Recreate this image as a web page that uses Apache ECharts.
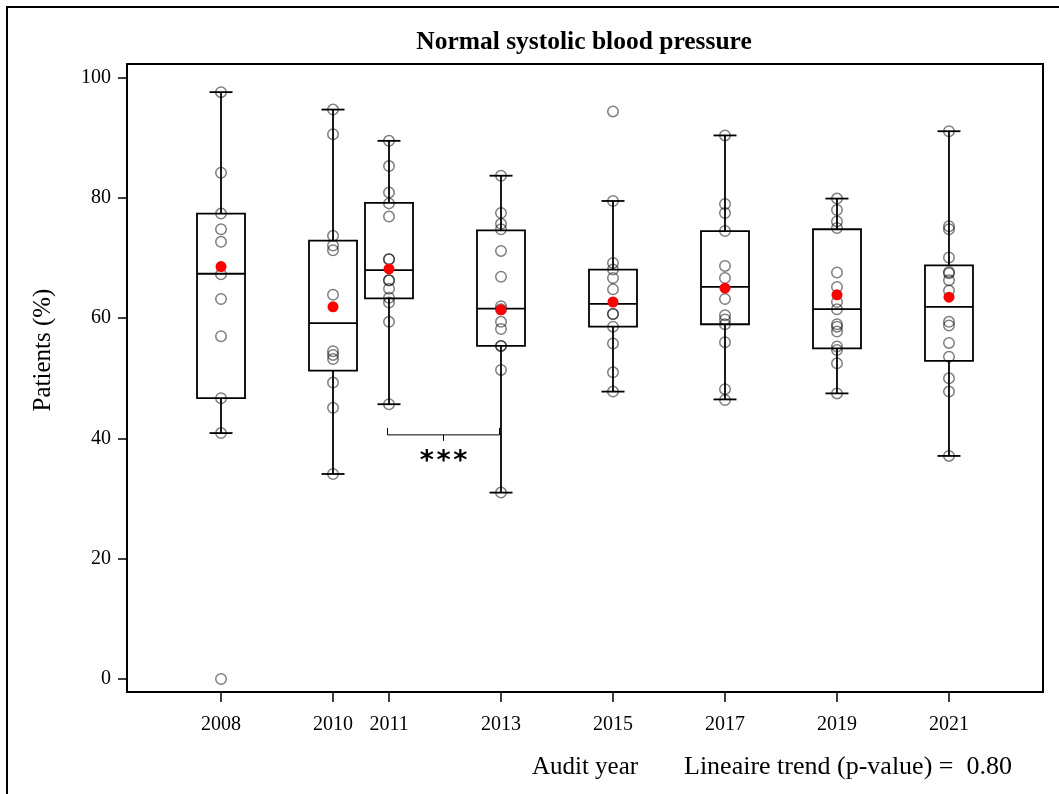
<!DOCTYPE html>
<html>
<head>
<meta charset="utf-8">
<script src="https://cdn.jsdelivr.net/npm/echarts@6/dist/echarts.min.js"></script>
<style>
  html, body { margin: 0; padding: 0; background: #fff; }
  #main { width: 1059px; height: 794px; }
</style>
</head>
<body>
<div id="main"></div>
<script>
// audit years and tick labels
const years = [2008, 2010, 2011, 2013, 2015, 2017, 2019, 2021];
const yTicks = [0, 20, 40, 60, 80, 100];

// box statistics per year
const whiskerLow = [40.9, 34.1, 45.7, 31.0, 47.8, 46.5, 47.5, 37.1];
const q1 = [46.7, 51.3, 63.3, 55.4, 58.6, 59.0, 55.0, 52.9];
const median = [67.4, 59.2, 68.0, 61.6, 62.4, 65.2, 61.5, 61.9];
const q3 = [77.4, 72.9, 79.2, 74.6, 68.1, 74.5, 74.8, 68.8];
const whiskerHigh = [97.6, 94.7, 89.5, 83.7, 79.5, 90.4, 79.9, 91.1];
const means = [68.6, 61.9, 68.2, 61.4, 62.7, 65.0, 63.9, 63.5];

// single values per year (open circles)
const pts2008 = [97.6, 84.2, 77.4, 74.8, 72.7, 67.3, 63.2, 57.0, 46.7, 40.9, 0];
const pts2010 = [94.7, 90.6, 73.7, 72.1, 71.3, 63.9, 54.5, 53.9, 53.2, 49.3, 45.1, 34.1];
const pts2011 = [89.5, 85.3, 80.9, 79.1, 76.9, 69.8, 69.8, 66.3, 66.3, 64.9, 63.4, 62.6, 59.4, 45.7];
const pts2013 = [83.7, 77.5, 75.7, 74.8, 71.2, 66.9, 62.0, 61.5, 59.4, 58.2, 55.4, 55.4, 51.4, 31.0];
const pts2015 = [94.4, 79.5, 69.2, 68.1, 66.7, 64.8, 60.7, 60.7, 58.6, 55.8, 51.0, 47.8];
const pts2017 = [90.4, 79.0, 77.5, 74.5, 68.7, 66.7, 63.2, 60.5, 59.8, 59.0, 56.0, 48.2, 46.4];
const pts2019 = [79.9, 78.0, 76.1, 75.0, 67.6, 65.2, 62.7, 61.5, 59.0, 58.6, 57.8, 55.3, 54.7, 52.5, 47.5];
const pts2021 = [91.1, 75.3, 74.8, 70.1, 67.7, 67.5, 66.3, 64.6, 59.4, 58.8, 55.9, 53.6, 50.0, 47.8, 37.1];
const allPts = [pts2008, pts2010, pts2011, pts2013, pts2015, pts2017, pts2019, pts2021];

// significance bracket 2011 vs 2013
const sigPair = [2011, 2013];
const sigLevel = 40.6;
const sigText = '*';

const serif = '"Liberation Serif", "Times New Roman", serif';

const chart = echarts.init(document.getElementById('main'));

const boxData = years.map((y, i) => [y, whiskerLow[i], q1[i], median[i], q3[i], whiskerHigh[i]]);
const pointData = [];
allPts.forEach((arr, i) => {
  arr.forEach(v => pointData.push([years[i], v]));
});
const meanData = years.map((y, i) => [y, means[i]]);

const line = { stroke: '#000', lineWidth: 1.8 };

const option = {
  animation: false,
  backgroundColor: '#fff',
  grid: {
    left: 127, right: 16, top: 64, bottom: 102,
    show: true, borderColor: '#000', borderWidth: 2
  },
  xAxis: {
    type: 'value',
    min: 2006.321,
    max: 2022.679,
    name: 'Audit year',
    nameLocation: 'middle',
    nameGap: 63,
    nameTextStyle: { fontFamily: serif, fontSize: 25, color: '#000' },
    axisLine: { onZero: false, lineStyle: { color: '#000', width: 2 } },
    axisTick: { customValues: years, length: 10, lineStyle: { color: '#000', width: 1.5 } },
    axisLabel: {
      customValues: years,
      formatter: v => String(v),
      fontFamily: serif, fontSize: 20, color: '#000', margin: 23
    },
    splitLine: { show: false }
  },
  yAxis: {
    type: 'value',
    min: -2.16,
    max: 102.28,
    axisLine: { onZero: false, lineStyle: { color: '#000', width: 2 } },
    axisTick: { customValues: yTicks, length: 9, lineStyle: { color: '#000', width: 1.5 } },
    axisLabel: {
      customValues: yTicks,
      fontFamily: serif, fontSize: 20, color: '#000', margin: 16
    },
    splitLine: { show: false }
  },
  graphic: [
    // outer frame
    { type: 'rect', shape: { x: 7, y: 7, width: 1100, height: 900 }, style: { fill: 'none', stroke: '#000', lineWidth: 2 }, z: 100 },
    { type: 'text', x: 584, y: 42, style: { text: 'Normal systolic blood pressure', font: 'bold 25.5px ' + serif, fill: '#000', align: 'center', verticalAlign: 'middle' } },
    { type: 'text', x: 43, y: 350, rotation: Math.PI / 2, style: { text: 'Patients (%)', font: '25px ' + serif, fill: '#000', align: 'center', verticalAlign: 'middle' } },
    { type: 'text', x: 684, y: 767, style: { text: 'Lineaire trend (p-value) =  0.80', font: '26px ' + serif, fill: '#000', align: 'left', verticalAlign: 'middle' } }
  ],
  series: [
    {
      name: 'box',
      type: 'custom',
      data: boxData,
      encode: { x: 0, y: [1, 2, 3, 4, 5] },
      z: 2,
      renderItem: (params, api) => {
        const x = api.value(0);
        const lo = api.coord([x, api.value(1)]);
        const b1 = api.coord([x, api.value(2)]);
        const md = api.coord([x, api.value(3)]);
        const b3 = api.coord([x, api.value(4)]);
        const hi = api.coord([x, api.value(5)]);
        const cx = lo[0];
        const hw = 24;
        const cw = 11.5;
        return {
          type: 'group',
          children: [
            { type: 'rect', shape: { x: cx - hw, y: b3[1], width: hw * 2, height: b1[1] - b3[1] }, style: { fill: 'none', stroke: '#000', lineWidth: 1.8 } },
            { type: 'line', shape: { x1: cx - hw, y1: md[1], x2: cx + hw, y2: md[1] }, style: line },
            { type: 'line', shape: { x1: cx, y1: b3[1], x2: cx, y2: hi[1] }, style: line },
            { type: 'line', shape: { x1: cx, y1: b1[1], x2: cx, y2: lo[1] }, style: line },
            { type: 'line', shape: { x1: cx - cw, y1: hi[1], x2: cx + cw, y2: hi[1] }, style: line },
            { type: 'line', shape: { x1: cx - cw, y1: lo[1], x2: cx + cw, y2: lo[1] }, style: line }
          ]
        };
      }
    },
    {
      name: 'values',
      type: 'scatter',
      data: pointData,
      symbol: 'circle',
      symbolSize: 10.5,
      z: 3,
      itemStyle: { color: 'rgba(0,0,0,0)', borderColor: 'rgba(0,0,0,0.5)', borderWidth: 1.5, opacity: 1 }
    },
    {
      name: 'mean',
      type: 'scatter',
      data: meanData,
      symbol: 'circle',
      symbolSize: 11,
      z: 4,
      itemStyle: { color: '#ff0000', opacity: 1 }
    },
    {
      name: 'significance',
      type: 'custom',
      data: [[sigPair[0], sigPair[1], sigLevel]],
      encode: { x: [0, 1], y: 2 },
      z: 5,
      renderItem: (params, api) => {
        const a = api.coord([api.value(0), api.value(2)]);
        const b = api.coord([api.value(1), api.value(2)]);
        const mx = (a[0] + b[0]) / 2 - 1.5;
        const thin = { stroke: '#000', lineWidth: 1, fill: 'none' };
        const stars = [-1, 0, 1].map(k => ({
          type: 'text',
          x: mx + k * 16.7,
          y: a[1] + 27,
          style: { text: sigText, font: 'bold 27px "DejaVu Sans"', fill: '#000', align: 'center', verticalAlign: 'middle' }
        }));
        return {
          type: 'group',
          children: [
            { type: 'polyline', shape: { points: [[a[0] - 1.5, a[1] - 7], [a[0] - 1.5, a[1]], [b[0] - 1.5, b[1]], [b[0] - 1.5, b[1] - 7]] }, style: thin },
            { type: 'line', shape: { x1: mx, y1: a[1], x2: mx, y2: a[1] + 6 }, style: thin }
          ].concat(stars)
        };
      }
    }
  ]
};

chart.setOption(option);
</script>
</body>
</html>
